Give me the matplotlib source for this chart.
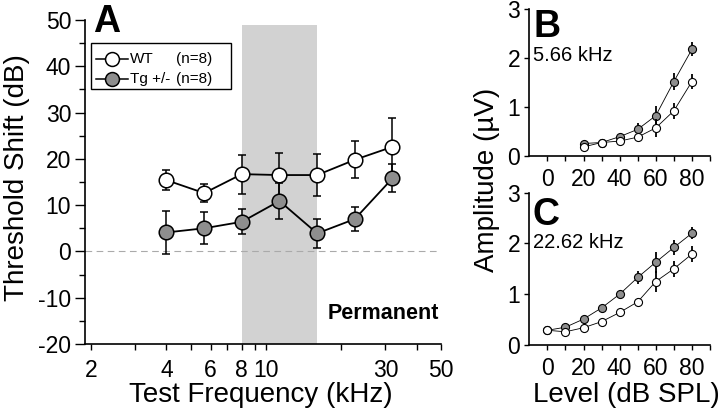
import matplotlib
matplotlib.use("Agg")
import matplotlib.pyplot as plt
import numpy as np
from matplotlib.lines import Line2D
from matplotlib.patches import Rectangle

plt.rcParams['font.family'] = ['Liberation Sans', 'DejaVu Sans']
plt.rcParams['axes.unicode_minus'] = False

# ---------------- Panel A data ----------------
freqs = [4, 5.66, 8, 11.31, 16, 22.62, 32]
wt_shift = [15.4, 12.6, 16.7, 16.5, 16.5, 19.8, 22.6]
wt_shift_err = [2.2, 2.0, 4.2, 4.7, 4.5, 4.0, 6.3]
tg_shift = [4.1, 5.0, 6.4, 10.9, 3.9, 7.0, 15.8]
tg_shift_err = [4.6, 3.5, 2.7, 3.9, 3.1, 2.5, 3.0]
shade_range = [8, 16]
xtick_vals = [2, 3, 4, 5, 6, 7, 8, 9, 10, 20, 30, 40, 50]
xtick_labels = ['2', '', '4', '', '6', '', '8', '', '10', '', '30', '', '50']

# ---------------- Panel B data (5.66 kHz) ----------------
levels_b = [20, 30, 40, 50, 60, 70, 80]
wt_amp_b = [0.18, 0.27, 0.30, 0.38, 0.57, 0.92, 1.52]
wt_amp_b_err = [0.03, 0.03, 0.04, 0.07, 0.19, 0.17, 0.15]
tg_amp_b = [0.25, 0.27, 0.39, 0.54, 0.82, 1.52, 2.18]
tg_amp_b_err = [0.03, 0.03, 0.05, 0.12, 0.20, 0.18, 0.14]

# ---------------- Panel C data (22.62 kHz) ----------------
levels_c = [0, 10, 20, 30, 40, 50, 60, 70, 80]
wt_amp_c = [0.29, 0.26, 0.34, 0.46, 0.64, 0.85, 1.25, 1.50, 1.79]
wt_amp_c_err = [0.03, 0.03, 0.03, 0.03, 0.04, 0.08, 0.21, 0.16, 0.16]
tg_amp_c = [0.29, 0.35, 0.51, 0.73, 1.00, 1.33, 1.63, 1.92, 2.20]
tg_amp_c_err = [0.03, 0.03, 0.03, 0.04, 0.06, 0.13, 0.21, 0.15, 0.12]

FILL = '#8e8e8e'

fig = plt.figure(figsize=(7.2, 4.13), dpi=100)

# ================= Panel A =================
axA = fig.add_axes([85/720, 1-344/413, 356/720, 324/413])
axA.set_xscale('log')
axA.set_xlim(1.89, 50)
axA.set_ylim(-20, 50)
axA.axvspan(shade_range[0], shade_range[1], ymin=0, ymax=(49-(-20))/70,
            facecolor='#d2d2d2', edgecolor='none', zorder=0)
axA.axhline(0, color='#aaaaaa', lw=0.8, ls=(0, (6, 4)), zorder=1)

axA.errorbar(freqs, wt_shift, yerr=wt_shift_err, fmt='-o', color='black',
             mfc='white', mec='black', ms=10.5, mew=1.1, lw=1.3,
             elinewidth=1.1, capsize=3, capthick=1.1, zorder=3)
axA.errorbar(freqs, tg_shift, yerr=tg_shift_err, fmt='-o', color='black',
             mfc=FILL, mec='black', ms=10.5, mew=1.1, lw=1.3,
             elinewidth=1.1, capsize=3, capthick=1.1, zorder=4)

for s in ['top', 'right']:
    axA.spines[s].set_visible(False)
for s in ['left', 'bottom']:
    axA.spines[s].set_linewidth(1.2)

axA.set_xticks(xtick_vals)
axA.set_xticklabels(xtick_labels)
axA.xaxis.set_minor_locator(matplotlib.ticker.NullLocator())
axA.tick_params(axis='x', which='major', length=4, width=1.0, labelsize=16.5, pad=7)
axA.set_yticks(np.arange(-20, 51, 10))
axA.set_yticks(np.arange(-15, 50, 10), minor=True)
axA.tick_params(axis='y', which='major', length=7, width=1.0, labelsize=16.5, pad=3)
axA.tick_params(axis='y', which='minor', length=4, width=1.0)

axA.text(93/720, 1-32/413, 'A', transform=fig.transFigure, fontsize=27,
         fontweight='bold', ha='left', va='baseline')
axA.text(49, -13.5, 'Permanent', fontsize=15.5, fontweight='bold',
         ha='right', va='center')

# manual legend
def ax_frac(px, py):
    return ((px - 85) / 356, (344 - py) / 324)

lx0, ly0 = ax_frac(90.7, 89)
lx1, ly1 = ax_frac(230.7, 43)
axA.add_patch(Rectangle((lx0, ly0), lx1 - lx0, ly1 - ly0, transform=axA.transAxes,
                        facecolor='white', edgecolor='black', lw=1.0, zorder=5,
                        clip_on=False))
for py, mfc, lab in [(59, 'white', 'WT'), (79, FILL, 'Tg +/-')]:
    xa, ya = ax_frac(96, py)
    xb, _ = ax_frac(128, py)
    xm, _ = ax_frac(112, py)
    axA.add_line(Line2D([xa, xb], [ya, ya], transform=axA.transAxes, color='black',
                        lw=1.1, zorder=6, clip_on=False))
    axA.add_line(Line2D([xm], [ya], transform=axA.transAxes, marker='o', ms=10,
                        mfc=mfc, mec='black', mew=1.1, zorder=7, clip_on=False))
    xt, _ = ax_frac(130, py)
    axA.text(xt, ya, lab, transform=axA.transAxes, fontsize=11, ha='left',
             va='center', zorder=7)
    xn, _ = ax_frac(176, py)
    axA.text(xn, ya, '(n=8)', transform=axA.transAxes, fontsize=11, ha='left',
             va='center', zorder=7)

fig.text(261/720, 1-395/413, 'Test Frequency (kHz)', fontsize=20,
         ha='center', va='center')
fig.text(17/720, 1-178/413, 'Threshold Shift (dB)', fontsize=20,
         ha='center', va='center', rotation=90)

# ================= Panels B and C =================
def style_small(ax):
    ax.set_xlim(-10, 90)
    ax.set_ylim(0, 3)
    for s in ['top', 'right']:
        ax.spines[s].set_visible(False)
    for s in ['left', 'bottom']:
        ax.spines[s].set_linewidth(1.2)
    ax.set_xticks(np.arange(0, 81, 20))
    ax.set_xticks(np.arange(10, 91, 20), minor=True)
    ax.set_yticks([0, 1, 2, 3])
    ax.tick_params(axis='both', which='major', length=3.5, width=1.0,
                   labelsize=16.5, pad=3)
    ax.tick_params(axis='x', which='major', pad=5)
    ax.tick_params(axis='both', which='minor', length=3.5, width=1.0)


def plot_pair(ax, lv, wt, wte, tg, tge):
    ax.errorbar(lv, tg, yerr=tge, fmt='-o', color='black', mfc=FILL, mec='black',
                ms=5.8, mew=0.8, lw=0.6, elinewidth=1.3, capsize=0, zorder=3)
    ax.errorbar(lv, wt, yerr=wte, fmt='-o', color='black', mfc='white', mec='black',
                ms=5.8, mew=0.8, lw=0.6, elinewidth=1.3, capsize=0, zorder=4)


axB = fig.add_axes([529.3/720, 1-155.7/413, 180.7/720, 146.4/413])
style_small(axB)
plot_pair(axB, levels_b, wt_amp_b, wt_amp_b_err, tg_amp_b, tg_amp_b_err)
fig.text(533/720, 1-36.7/413, 'B', fontsize=27, fontweight='bold',
         ha='left', va='baseline')
fig.text(533/720, 1-55.5/413, '5.66 kHz', fontsize=14.5, ha='left', va='center')

axC = fig.add_axes([529.3/720, 1-345/413, 180.7/720, 152.4/413])
style_small(axC)
plot_pair(axC, levels_c, wt_amp_c, wt_amp_c_err, tg_amp_c, tg_amp_c_err)
fig.text(533/720, 1-225/413, 'C', fontsize=27, fontweight='bold',
         ha='left', va='baseline')
fig.text(533/720, 1-242/413, '22.62 kHz', fontsize=14.5, ha='left', va='center')

fig.text(487/720, 1-180/413, 'Amplitude (\u00b5V)', fontsize=20,
         ha='center', va='center', rotation=90)
fig.text(626/720, 1-395/413, 'Level (dB SPL)', fontsize=20,
         ha='center', va='center')

fig.savefig('out.png', dpi=100)
